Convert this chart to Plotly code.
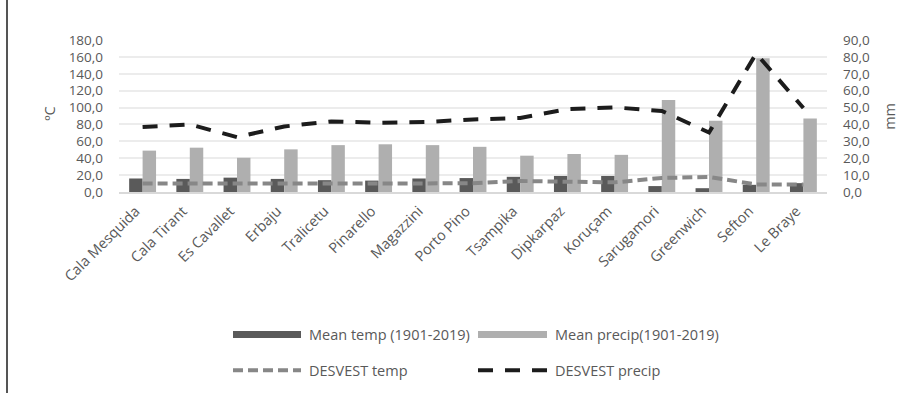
import plotly.graph_objects as go

categories = ["Cala Mesquida", "Cala Tirant", "Es Cavallet", "Erbaju", "Tralicetu",
              "Pinarello", "Magazzini", "Porto Pino", "Tsampika", "Dipkarpaz",
              "Koruçam", "Sarugamori", "Greenwich", "Sefton", "Le Braye"]
mean_temp = [16, 15.5, 17, 15.5, 14, 13.5, 16, 16.5, 18, 19, 19, 7, 4.5, 8.5, 10.5]
mean_precip = [49, 52.5, 40.5, 50.5, 55.5, 56.5, 55.5, 53.5, 43, 45, 44, 109, 84.5, 158.5, 87]
desvest_temp = [5.1, 5.2, 5.2, 5.0, 5.0, 5.1, 5.1, 5.2, 6.5, 6.3, 5.7, 8.3, 8.9, 4.5, 4.5]
desvest_precip = [38.5, 40, 32.5, 38.8, 41.8, 41, 41.4, 43, 43.8, 49.1, 50.1, 48, 35.2, 82, 49.7]

left_ticks = list(range(0, 181, 20))
right_ticks = list(range(0, 91, 10))

FONT = "Open Sans"
TXT = "#595959"
FS = 14.5
FS_TICK = 13.5

# plot area in pixels
W, H = 922, 393
L, R, T, B = 119, 827, 40, 192.3

TEMP_DASH = "10px,5px"
PREC_DASH = "15px,12px"


def px(x):
    return (x - L) / (R - L)


def py(y):
    return (B - y) / (B - T)


fig = go.Figure()
fig.add_trace(go.Bar(x=categories, y=mean_temp, name="Mean temp (1901-2019)",
                     marker=dict(color="#5a5a5a", line=dict(width=0)), showlegend=False))
fig.add_trace(go.Bar(x=categories, y=mean_precip, name="Mean precip(1901-2019)",
                     marker=dict(color="#afafaf", line=dict(width=0)), showlegend=False))
fig.add_trace(go.Scatter(x=categories, y=desvest_temp, name="DESVEST temp", yaxis="y2",
                         mode="lines", line=dict(color="#878787", width=4, dash=TEMP_DASH),
                         showlegend=False))
fig.add_trace(go.Scatter(x=categories, y=desvest_precip, name="DESVEST precip", yaxis="y2",
                         mode="lines", line=dict(color="#1c1c1c", width=4, dash=PREC_DASH),
                         showlegend=False))

shapes = []
annotations = []
# frame line on the left
shapes.append(dict(type="line", xref="paper", yref="paper", x0=px(7), x1=px(7),
                   y0=py(H + 5), y1=py(-5), line=dict(color="#555555", width=2)))

# manual legend
leg = [
    ("Mean temp (1901-2019)", 233, 301, 335, "bar", "#5a5a5a", None),
    ("Mean precip(1901-2019)", 478, 547, 335, "bar", "#afafaf", None),
    ("DESVEST temp", 233, 301, 371, "line", "#878787", TEMP_DASH),
    ("DESVEST precip", 478, 547, 371, "line", "#1c1c1c", PREC_DASH),
]
for name, x0, x1, yc, kind, col, dash in leg:
    if kind == "bar":
        shapes.append(dict(type="rect", xref="paper", yref="paper", x0=px(x0), x1=px(x1),
                           y0=py(yc + 3.5), y1=py(yc - 3.5), line=dict(width=0), fillcolor=col))
    else:
        shapes.append(dict(type="line", xref="paper", yref="paper", x0=px(x0), x1=px(x1),
                           y0=py(yc), y1=py(yc), line=dict(color=col, width=4, dash=dash)))
    annotations.append(dict(text=name, xref="paper", yref="paper", x=px(x1 + 6), y=py(yc),
                            xanchor="left", yanchor="middle", showarrow=False,
                            font=dict(family=FONT, size=FS, color=TXT)))

# axis titles
annotations.append(dict(text="ºC", xref="paper", yref="paper", x=px(50), y=py(114),
                        textangle=-90, showarrow=False, xanchor="center", yanchor="middle",
                        font=dict(family=FONT, size=FS, color=TXT)))
annotations.append(dict(text="mm", xref="paper", yref="paper", x=px(890), y=py(117),
                        textangle=-90, showarrow=False, xanchor="center", yanchor="middle",
                        font=dict(family=FONT, size=FS, color=TXT)))

fig.update_layout(
    width=W, height=H,
    margin=dict(l=L, r=W - R, t=T, b=H - B, pad=0),
    paper_bgcolor="white", plot_bgcolor="white",
    separators=",.",
    barmode="group", bargap=0.43, bargroupgap=0,
    font=dict(family=FONT, size=FS, color=TXT),
    showlegend=False,
    xaxis=dict(type="category", tickangle=-45, showgrid=False, showline=True,
               linecolor="#d9d9d9", linewidth=2, ticks="", tickfont=dict(size=FS, color=TXT),
               zeroline=False, ticklabelshift=-7, ticklabelstandoff=3),
    yaxis=dict(range=[0, 180], tickvals=left_ticks, tickformat=".1f", showgrid=True,
               gridcolor="#ececec", gridwidth=1.5, zeroline=False, ticks="",
               tickfont=dict(size=FS_TICK, color=TXT), ticklabelstandoff=15),
    yaxis2=dict(range=[0, 90], tickvals=right_ticks, tickformat=".1f", overlaying="y",
                side="right", showgrid=False, zeroline=False, ticks="",
                tickfont=dict(size=FS_TICK, color=TXT), ticklabelstandoff=15),
    shapes=shapes, annotations=annotations,
)

fig.write_html("out.html", config={"displayModeBar": False},
               post_script="document.body.style.margin='0';")
